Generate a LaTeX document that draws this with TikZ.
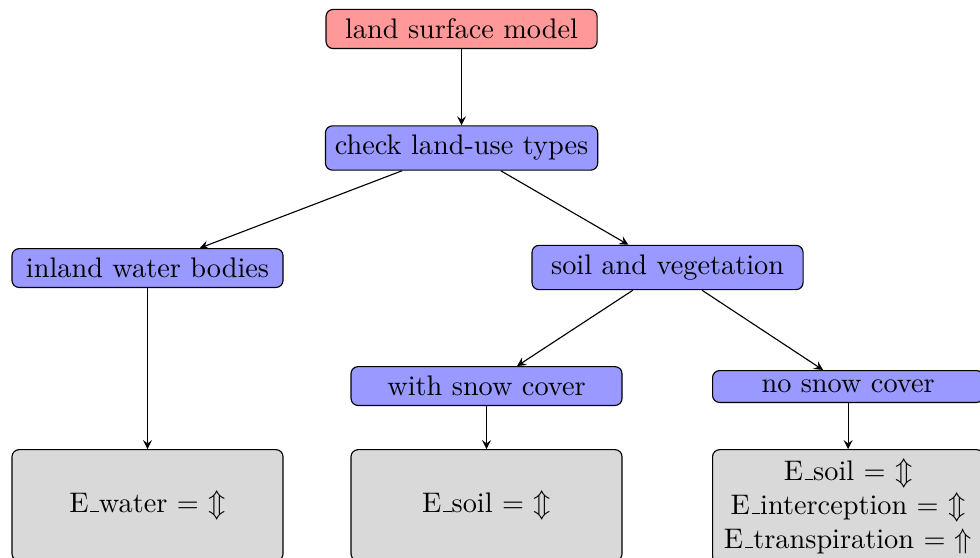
\documentclass[tikz,border=0pt]{standalone}
\usepackage{amsmath}
% short underscore rule, as in the classic OT1 fonts
\newcommand{\lowbar}{\leavevmode\kern.06em\vbox{\hrule width.3em}}

\begin{document}
\begin{tikzpicture}[%
    >=stealth,
    block/.style={draw, rounded corners=2.5pt, minimum width=3.366cm},
    start/.style={block, fill=red!40},
    decision/.style={block, fill=blue!40},
    result/.style={block, fill=gray!30, anchor=north, minimum height=1.38cm, align=center}
  ]
    \useasboundingbox (0,0) rectangle (12.17,-6.918);
    % model and land-use split
    \node[start]    (lsm)    at (5.732,-0.360) {land surface model};
    \node[decision] (check)  at (5.732,-1.838) {check land-use types};
    \node[decision] (water)  at (1.832,-3.329) {inland water bodies};
    \node[decision] (soil)   at (8.290,-3.322) {soil and vegetation};
    \node[decision] (snow)   at (6.042,-4.794) {with snow cover};
    \node[decision] (nosnow) at (10.532,-4.800) {no snow cover};
    % fluxes per surface
    \node[result] (ewater) at (1.832,-5.577) {E\lowbar water $=$ $\Updownarrow$};
    \node[result] (esnow)  at (6.042,-5.577) {E\lowbar soil $=$ $\Updownarrow$};
    \node[result] (esoil)  at (10.532,-5.577) {E\lowbar soil $=$ $\Updownarrow$\\
      E\lowbar interception $=$ $\Updownarrow$\\ E\lowbar transpiration $=$ $\Uparrow$};

    \draw[->] (lsm) -- (check);
    \draw[->] (check) -- (water);
    \draw[->] (check) -- (soil);
    \draw[->] (water) -- (ewater);
    \draw[->] (soil) -- (snow);
    \draw[->] (soil) -- (nosnow);
    \draw[->] (snow) -- (esnow);
    \draw[->] (nosnow) -- (esoil);
\end{tikzpicture}
\end{document}
